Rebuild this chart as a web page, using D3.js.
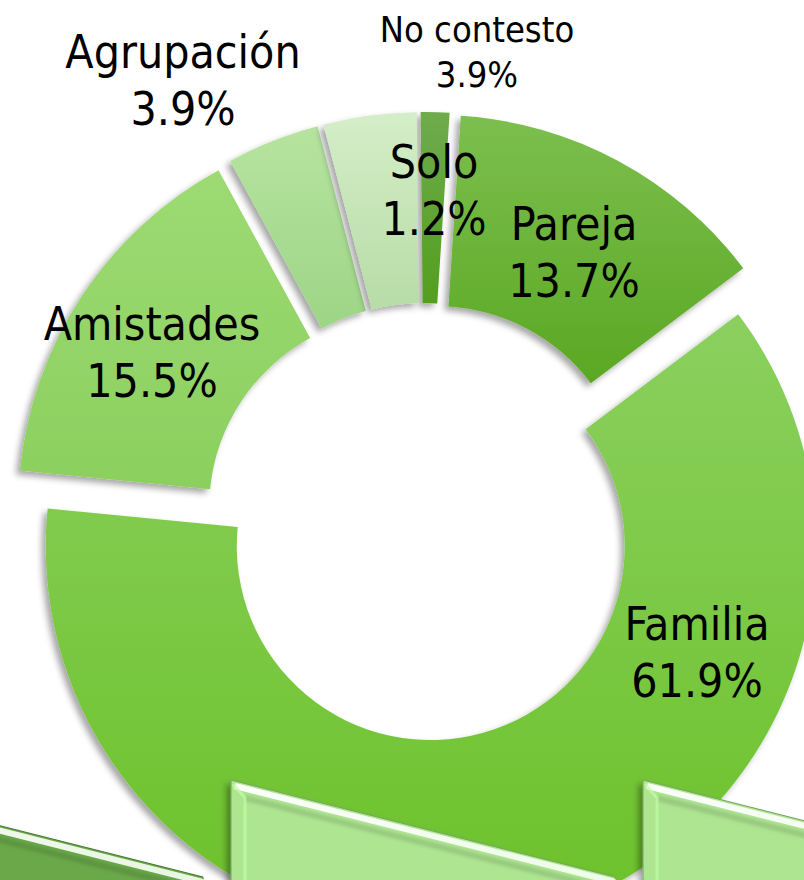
<!DOCTYPE html>
<html>
<head>
<meta charset="utf-8">
<script src="https://cdn.jsdelivr.net/npm/d3@7"></script>
<style>
  body { margin: 0; background: #fff; }
  svg { display: block; }
  text { font-family: "DejaVu Sans Condensed", "DejaVu Sans", sans-serif; font-stretch: condensed; fill: #000; }
</style>
</head>
<body>
<svg id="donut" width="804" height="880"></svg>
<script>
// data, clockwise from 12 o'clock
var categories = ["Solo", "Pareja", "Familia", "Amistades", "Agrupación", "No contesto"];
var values = [1.2, 13.7, 61.9, 15.5, 3.9, 3.9];
var valueLabels = ["1.2%", "13.7%", "61.9%", "15.5%", "3.9%", "3.9%"];

// styling / layout
var topColors = ["#6fab4c", "#7cbf4e", "#8bd05f", "#9dda73", "#b6e4a0", "#d4eec9"];
var bottomColors = ["#529f1f", "#5aa823", "#6bc128", "#8bd05f", "#9dd586", "#b7dca5"];
var labelXY = [[434, 178], [574, 240], [697, 640], [152, 340], [183, 68], [477, 42]];
var labelSize = [46, 46, 46, 46, 46, 36];

var svg = d3.select("#donut"),
    cx = 424, cy = 522,
    outer = 385, inner = 194,
    explode = 25,
    start = -0.6 * Math.PI / 180;

var defs = svg.append("defs");

var shadow = defs.append("filter")
    .attr("id", "shadow")
    .attr("x", "-20%").attr("y", "-20%")
    .attr("width", "140%").attr("height", "140%");
shadow.append("feDropShadow")
    .attr("dx", -4).attr("dy", 4)
    .attr("stdDeviation", 3)
    .attr("flood-color", "#000")
    .attr("flood-opacity", 0.35);

categories.forEach(function(c, i) {
  var grad = defs.append("linearGradient")
      .attr("id", "grad" + i)
      .attr("x1", 0).attr("y1", 0).attr("x2", 0).attr("y2", 1);
  grad.append("stop").attr("offset", "0%").attr("stop-color", topColors[i]);
  grad.append("stop").attr("offset", "100%").attr("stop-color", bottomColors[i]);
});

var pie = d3.pie()
    .sort(null)
    .value(function(d) { return d; })
    .startAngle(start)
    .endAngle(start + 2 * Math.PI);

var arc = d3.arc()
    .innerRadius(inner)
    .outerRadius(outer);

var arcs = pie(values);

svg.append("g")
  .selectAll("path")
  .data(arcs)
  .enter().append("path")
    .attr("transform", function(d) {
      var mid = (d.startAngle + d.endAngle) / 2;
      return "translate(" + (cx + explode * Math.sin(mid)) + "," + (cy - explode * Math.cos(mid)) + ")";
    })
    .attr("d", arc)
    .attr("fill", function(d, i) { return "url(#grad" + i + ")"; })
    .attr("filter", "url(#shadow)");

// labels
var labels = svg.append("g");
categories.forEach(function(c, i) {
  var t = labels.append("text")
      .attr("text-anchor", "middle")
      .attr("font-size", labelSize[i])
      .attr("x", labelXY[i][0])
      .attr("y", labelXY[i][1]);
  t.append("tspan").attr("x", labelXY[i][0]).text(c);
  t.append("tspan").attr("x", labelXY[i][0]).attr("dy", "1.24em").text(valueLabels[i]);
});

// bevelled slide decoration at the bottom
var panelLefts = [-181, 231, 643],
    panelFill = ["#6aa84a", "#ade591", "#ade591"],
    panelTop = 780, panelW = 384, panelDrop = 97;

var pg = defs.append("linearGradient")
    .attr("id", "bevel")
    .attr("x1", 0).attr("y1", 0).attr("x2", 1).attr("y2", 0);
pg.append("stop").attr("offset", "0%").attr("stop-color", "#ffffff").attr("stop-opacity", 0.95);
pg.append("stop").attr("offset", "100%").attr("stop-color", "#f4fff0").attr("stop-opacity", 0.9);

var blur = defs.append("filter").attr("id", "soft");
blur.append("feGaussianBlur").attr("stdDeviation", 1.5);

var panels = svg.append("g");
panelLefts.forEach(function(L, i) {
  var p = panels.append("g");
  p.append("path")
      .attr("d", "M" + L + "," + panelTop + "L" + (L + panelW) + "," + (panelTop + panelDrop) +
                 "L" + (L + panelW) + ",900L" + L + ",900Z")
      .attr("fill", panelFill[i])
      .attr("stroke", d3.color(panelFill[i]).darker(1))
      .attr("stroke-width", 1)
      .attr("filter", "url(#shadow)");
  // shadow under the bevel ridge
  p.append("path")
      .attr("d", "M" + (L + 14) + "," + (panelTop + 18) + "L" + (L + panelW) + "," + (panelTop + panelDrop + 14))
      .attr("stroke", d3.color(panelFill[i]).darker(0.6))
      .attr("stroke-width", 6)
      .attr("opacity", 0.6)
      .attr("filter", "url(#soft)");
  // white ridge along the top edge
  p.append("path")
      .attr("d", "M" + (L + 4) + "," + (panelTop + 6) + "L" + (L + panelW) + "," + (panelTop + panelDrop + 5))
      .attr("stroke", "url(#bevel)")
      .attr("stroke-width", 6);
  // light left edge
  p.append("path")
      .attr("d", "M" + (L + 2) + "," + (panelTop + 4) + "L" + (L + 14) + "," + (panelTop + 18) + "L" + (L + 14) + ",900")
      .attr("fill", "none")
      .attr("stroke", d3.color(panelFill[i]).brighter(0.3))
      .attr("stroke-width", 3)
      .attr("opacity", 0.7);
});
</script>
</body>
</html>
